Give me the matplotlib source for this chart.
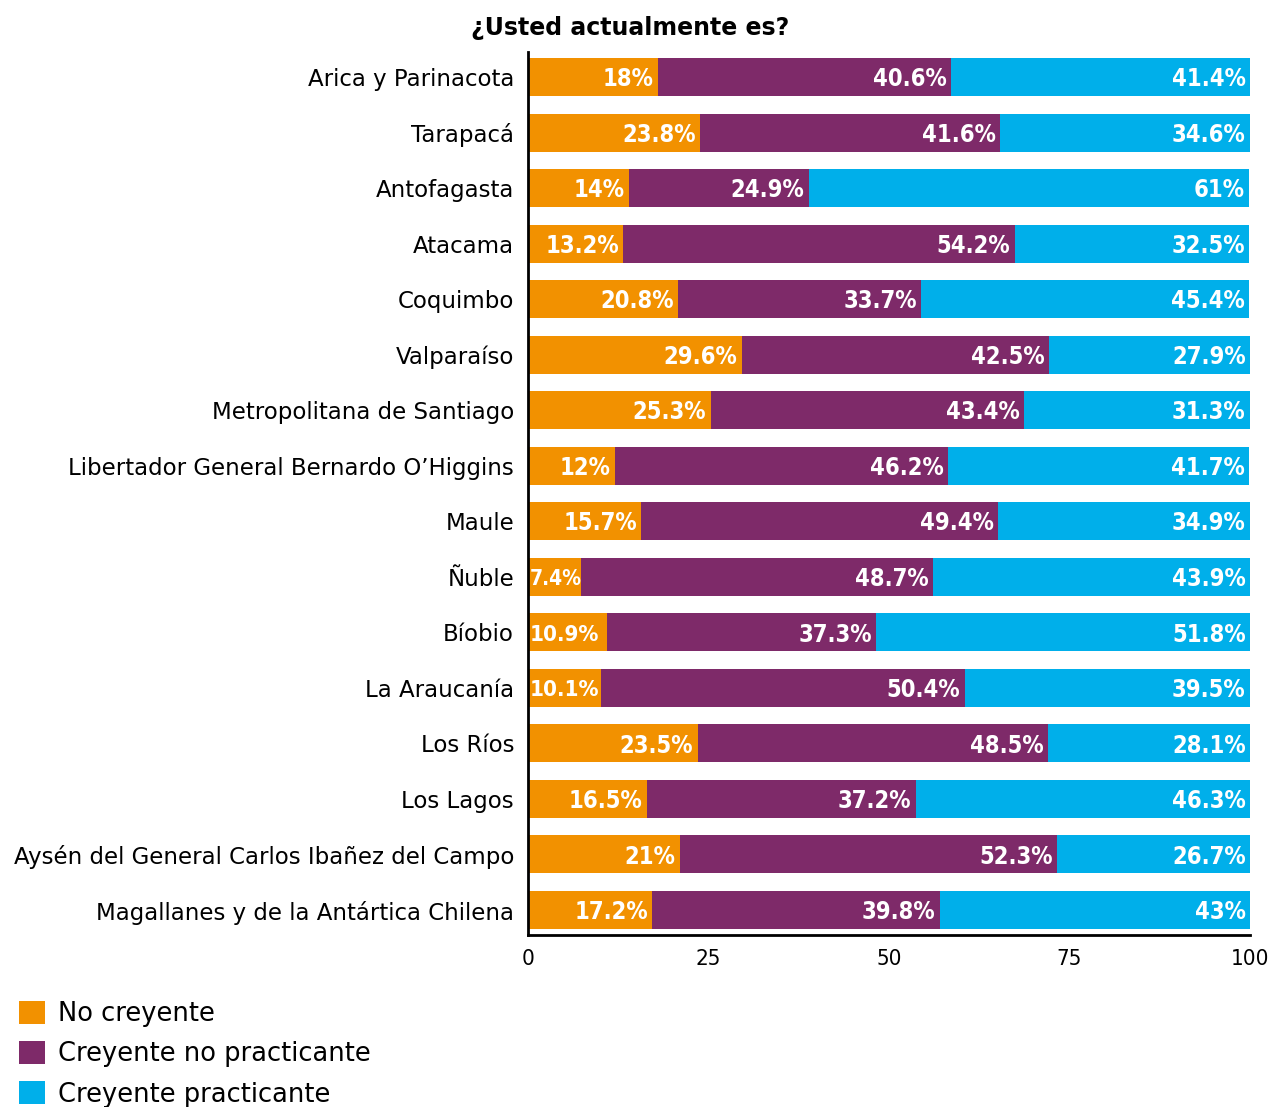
import numpy as np
import matplotlib
matplotlib.use('Agg')
import matplotlib.pyplot as plt
from matplotlib.patches import Patch

# data
regiones = ['Arica y Parinacota', 'Tarapacá', 'Antofagasta', 'Atacama', 'Coquimbo',
            'Valparaíso', 'Metropolitana de Santiago',
            'Libertador General Bernardo O\u2019Higgins', 'Maule', 'Ñuble', 'Bíobio',
            'La Araucanía', 'Los Ríos', 'Los Lagos',
            'Aysén del General Carlos Ibañez del Campo',
            'Magallanes y de la Antártica Chilena']
no_creyente = [18, 23.8, 14, 13.2, 20.8, 29.6, 25.3, 12, 15.7, 7.4, 10.9, 10.1, 23.5, 16.5, 21, 17.2]
creyente_no_pract = [40.6, 41.6, 24.9, 54.2, 33.7, 42.5, 43.4, 46.2, 49.4, 48.7, 37.3, 50.4, 48.5, 37.2, 52.3, 39.8]
creyente_pract = [41.4, 34.6, 61, 32.5, 45.4, 27.9, 31.3, 41.7, 34.9, 43.9, 51.8, 39.5, 28.1, 46.3, 26.7, 43]
series_names = ['No creyente', 'Creyente no practicante', 'Creyente practicante']
colores = ['#F29100', '#7E2A69', '#00AFEA']

fig = plt.figure(figsize=(12.71, 11.07), dpi=100)
ax = fig.add_axes([528/1271, 1 - 935/1107, (1250 - 528)/1271, (935 - 52)/1107])

y = np.arange(len(regiones))
left = np.zeros(len(regiones))
for vals, col in zip([no_creyente, creyente_no_pract, creyente_pract], colores):
	vals = np.array(vals, dtype=float)
	ax.barh(y, vals, left=left, height=0.685, color=col, edgecolor='none')
	for yi, l, v in zip(y, left, vals):
		txt = ('%g' % v) + '%'
		if v < 9:
			# segmento muy angosto
			ax.text(l + 0.2, yi + 0.04, txt, ha='left', va='center', color='white',
			        fontsize=15, fontweight='bold', fontstretch='condensed',
			        family='DejaVu Sans')
		elif v < 11.5:
			ax.text(l + 0.2, yi + 0.04, txt, ha='left', va='center', color='white',
			        fontsize=16, fontweight='bold', fontstretch='condensed',
			        family='DejaVu Sans')
		else:
			ax.text(l + v - 0.6, yi + 0.04, txt, ha='right', va='center', color='white',
			        fontsize=17, fontweight='bold', fontstretch='condensed',
			        family='DejaVu Sans')
	left = left + vals

ax.set_xlim(0, 100)
ax.set_ylim(len(regiones) - 0.55, -0.45)
ax.set_yticks(y)
ax.set_yticklabels(regiones, fontsize=16.5)
ax.set_xticks([0, 25, 50, 75, 100])
ax.set_xticklabels(['0', '25', '50', '75', '100'], fontsize=16, fontstretch='condensed')
ax.tick_params(axis='both', length=0, pad=10)
ax.tick_params(axis='y', pad=10)
for s in ['top', 'right']:
	ax.spines[s].set_visible(False)
for s in ['left', 'bottom']:
	ax.spines[s].set_linewidth(2)
	ax.spines[s].set_color('black')

fig.text(0.496, 1 - 28/1107, '¿Usted actualmente es?', ha='center', va='center',
         fontsize=17, fontweight='bold')

handles = [Patch(facecolor=c, edgecolor='none') for c in colores]
fig.legend(handles, series_names, loc='lower left', bbox_to_anchor=(0.007, -0.010),
           frameon=False, fontsize=18.5, handlelength=1.0, handleheight=1.0,
           handletextpad=0.5, labelspacing=0.55, borderaxespad=0)

fig.savefig('out.png', dpi=100)
